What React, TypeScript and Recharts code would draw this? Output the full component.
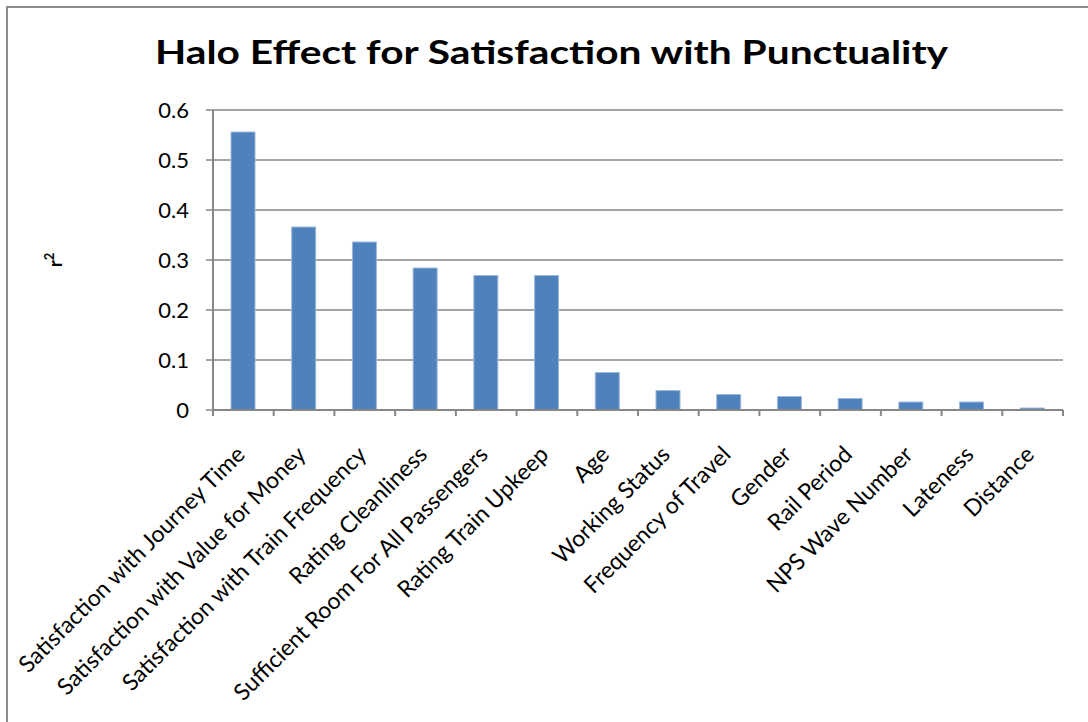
import React from 'react';
import { BarChart, Bar, XAxis, YAxis, CartesianGrid, Label } from 'recharts';

const categories = [
  'Satisfaction with Journey Time',
  'Satisfaction with Value for Money',
  'Satisfaction with Train Frequency',
  'Rating Cleanliness',
  'Sufficient Room For All Passengers',
  'Rating Train Upkeep',
  'Age',
  'Working Status',
  'Frequency of Travel',
  'Gender',
  'Rail Period',
  'NPS Wave Number',
  'Lateness',
  'Distance',
];

const r2Values = [0.556, 0.366, 0.336, 0.284, 0.269, 0.269, 0.075, 0.039, 0.031, 0.027, 0.023, 0.016, 0.016, 0.004];

const yTicks = [0, 0.1, 0.2, 0.3, 0.4, 0.5, 0.6];

const data = categories.map((name, i) => ({ name, r2: r2Values[i] }));

const W = 1088;
const H = 722;
const MARGIN = { top: 110, right: 25, bottom: 0, left: 0 };
const Y_AXIS_W = 213;
const X_AXIS_H = 312;
const AXIS_GRAY = '#878787';
const FONT = 'Lato, "Open Sans", sans-serif';

const BAND = (W - MARGIN.left - MARGIN.right - Y_AXIS_W) / categories.length;

function CategoryTick(props: any) {
  const { x, y, payload, index } = props;
  const half = payload && payload.offset ? payload.offset : BAND / 2;
  const last = index === categories.length - 1;
  const tx = x + 3;
  const ty = y + 46;
  return (
    <g>
      <line x1={x - half} x2={x - half} y1={y} y2={y + 6} stroke={AXIS_GRAY} strokeWidth={2} />
      {last && <line x1={x + half} x2={x + half} y1={y} y2={y + 6} stroke={AXIS_GRAY} strokeWidth={2} />}
      <text
        x={tx}
        y={ty}
        textAnchor="end"
        transform={`rotate(-45, ${tx}, ${ty})`}
        fontFamily={FONT}
        fontSize={23}
        fill="#000"
      >
        {payload.value}
      </text>
    </g>
  );
}

function YLabel(props: any) {
  const vb = props.viewBox || { x: 0, y: MARGIN.top, height: 300 };
  const cx = vb.x + 62;
  const cy = vb.y + vb.height / 2;
  return (
    <text
      x={cx}
      y={cy}
      textAnchor="middle"
      transform={`rotate(-90, ${cx}, ${cy})`}
      fontFamily={FONT}
      fontWeight="bold"
      fontSize={19}
      fill="#000"
    >
      r<tspan dy={-8} fontSize={13}>2</tspan>
    </text>
  );
}

export default function App() {
  return (
    <div style={{ position: 'absolute', left: 0, top: 0, width: W, height: H, overflow: 'hidden', background: '#fff' }}>
      <div
        style={{
          position: 'absolute',
          left: 6,
          top: 6,
          width: W + 20,
          height: H + 20,
          border: '2px solid #8c8c8c',
          boxSizing: 'border-box',
        }}
      />
      <svg width={W} height={100} style={{ position: 'absolute', left: 0, top: 0 }}>
        <text
          x={551.5}
          y={64}
          textAnchor="middle"
          textLength={793}
          lengthAdjust="spacingAndGlyphs"
          fontFamily={FONT}
          fontWeight="bold"
          fontSize={32}
          fill="#000"
        >
          Halo Effect for Satisfaction with Punctuality
        </text>
      </svg>
      <div style={{ position: 'absolute', left: 0, top: 0 }}>
        <BarChart width={W} height={H} data={data} margin={MARGIN} barSize={24}>
          <CartesianGrid vertical={false} stroke={AXIS_GRAY} strokeWidth={1.5} />
          <XAxis
            dataKey="name"
            interval={0}
            height={X_AXIS_H}
            tickSize={0}
            tickMargin={0}
            tickLine={false}
            axisLine={{ stroke: AXIS_GRAY, strokeWidth: 2 }}
            tick={<CategoryTick />}
          />
          <YAxis
            width={Y_AXIS_W}
            domain={[0, 0.6]}
            ticks={yTicks}
            interval={0}
            tickSize={7}
            tickMargin={17}
            tickLine={{ stroke: AXIS_GRAY, strokeWidth: 1.5 }}
            axisLine={{ stroke: AXIS_GRAY, strokeWidth: 2 }}
            tick={{ fill: '#000', fontSize: 22, fontFamily: FONT }}
          >
            <Label content={<YLabel />} />
          </YAxis>
          <Bar dataKey="r2" fill="#4f81bd" stroke="#9db8da" strokeWidth={1} isAnimationActive={false} />
        </BarChart>
      </div>
    </div>
  );
}
